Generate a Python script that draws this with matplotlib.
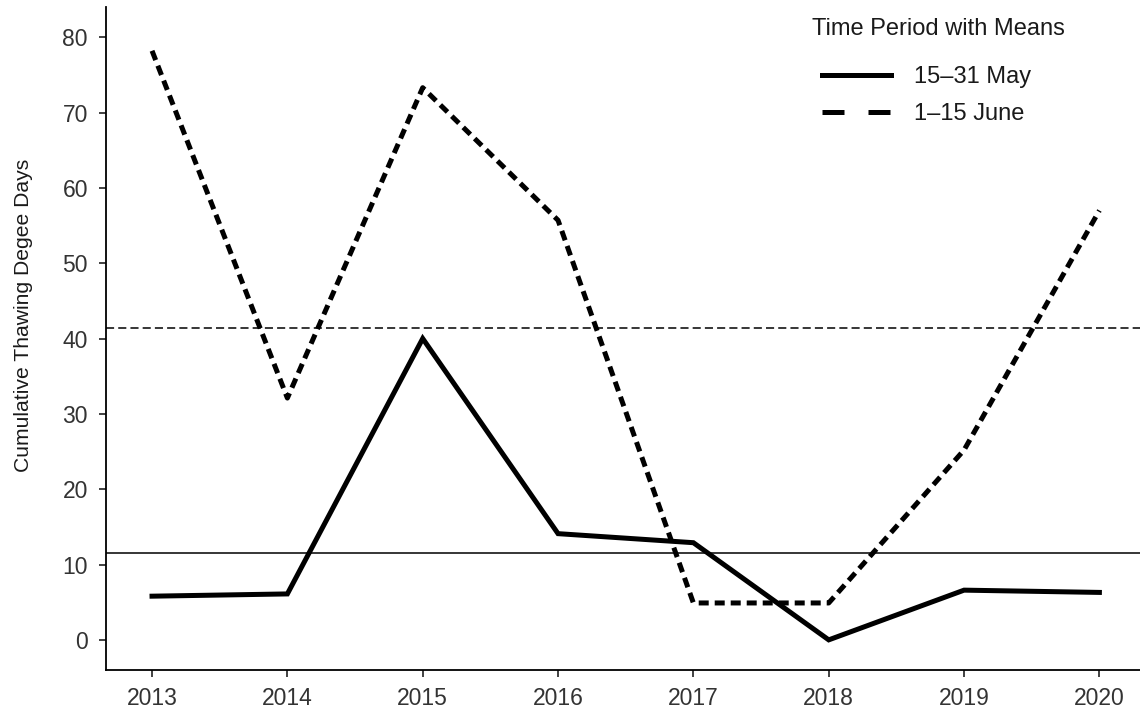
import matplotlib.pyplot as plt
from matplotlib.lines import Line2D

plt.rcParams['font.family'] = ['Liberation Sans', 'DejaVu Sans']

years = [2013, 2014, 2015, 2016, 2017, 2018, 2019, 2020]
may = [5.8, 6.1, 40.0, 14.1, 12.9, 0.0, 6.6, 6.3]
june = [78.2, 32.1, 73.3, 55.7, 4.9, 4.9, 25.2, 57.0]
may_mean = sum(may) / len(may)
june_mean = sum(june) / len(june)

fig = plt.figure(figsize=(11.4, 7.09), dpi=100)
ax = fig.add_axes([0.093, 0.055, 0.907, 0.935])

ax.plot(years, may, color='black', lw=3.6, solid_joinstyle='miter')
ax.plot(years, june, color='black', lw=3.6, dashes=(2.0, 1.2), dash_capstyle='butt')
ax.axhline(may_mean, color='black', lw=1.1)
ax.axhline(june_mean, color='black', lw=1.1, dashes=(5.3, 2.7))

ax.set_xlim(2012.66, 2020.3)
ax.set_ylim(-4.0, 84.0)
ax.set_xticks(years)
ax.set_yticks(range(0, 81, 10))
ax.set_ylabel('Cumulative Thawing Degee Days', fontsize=15.2, color='#1a1a1a')
ax.yaxis.set_label_coords(-0.071, 0.535)

for s in ['top', 'right']:
    ax.spines[s].set_visible(False)
for s in ['left', 'bottom']:
    ax.spines[s].set_linewidth(1.3)
ax.tick_params(axis='both', direction='out', length=5, width=1.3, color='#333333',
               labelsize=16.5, labelcolor='#333333')
ax.tick_params(axis='x', pad=7)
ax.tick_params(axis='y', pad=8)

# legend title as separate text so its gap to the entries can be set
fig.text(0.7123, 0.959, 'Time Period with Means', fontsize=17, color='#1a1a1a', va='center', ha='left')
handles = [Line2D([], [], color='black', lw=3.6),
           Line2D([], [], color='black', lw=3.6, dashes=(4.4, 4.8))]
leg = ax.legend(handles, ['15–31 May', '1–15 June'],
                loc='upper left', bbox_to_anchor=(0.7211, 0.9069), bbox_transform=fig.transFigure,
                frameon=False, fontsize=17, handlelength=2.9, borderpad=0, borderaxespad=0,
                handletextpad=1.0, labelspacing=0.655)
for t in leg.get_texts():
    t.set_color('#1a1a1a')

fig.savefig('out.png', dpi=100)
